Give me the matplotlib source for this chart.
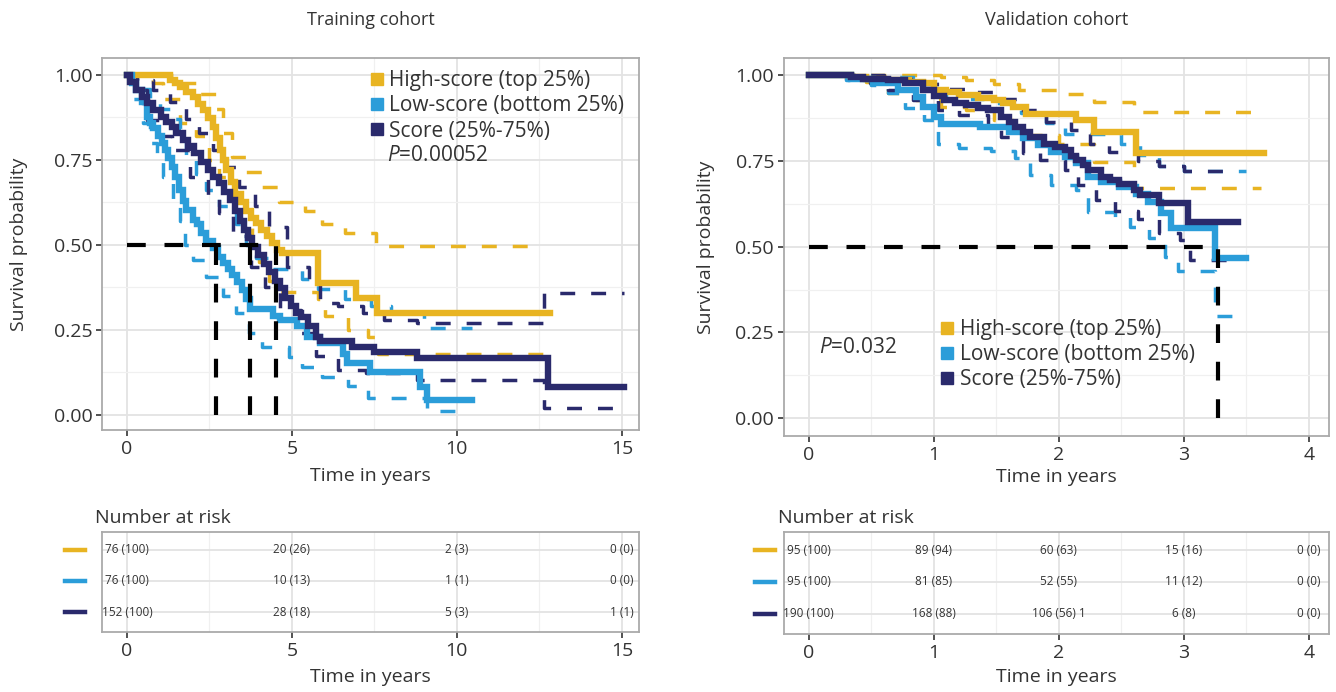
import matplotlib
matplotlib.use('Agg')
import matplotlib.pyplot as plt
from matplotlib.lines import Line2D
import matplotlib.transforms as mtransforms

plt.rcParams['font.family'] = ['Open Sans', 'DejaVu Sans']
plt.rcParams['mathtext.fontset'] = 'custom'
plt.rcParams['mathtext.rm'] = 'Open Sans'
plt.rcParams['mathtext.it'] = 'Open Sans:italic'

YELLOW = '#E8B422'
BLUE = '#2B9DD9'
NAVY = '#2A2A6C'
TXT = '#333333'

group_labels = ['High-score (top 25%)', 'Low-score (bottom 25%)', 'Score (25%-75%)']

# ---------------- Training cohort ----------------
tr_high_t = [0, 1.3, 1.45, 1.6, 1.8, 2.0, 2.15, 2.3, 2.45, 2.6, 2.7, 2.82, 2.9, 3.0, 3.15, 3.27, 3.45, 3.6, 3.75, 3.9, 4.05, 4.24, 4.4, 4.55, 4.7, 5.79, 6.93, 7.59, 12.83]
tr_high_s = [1, 0.985, 0.975, 0.966, 0.95, 0.936, 0.915, 0.897, 0.872, 0.848, 0.815, 0.78, 0.75, 0.72, 0.685, 0.65, 0.625, 0.60, 0.58, 0.564, 0.545, 0.525, 0.505, 0.485, 0.475, 0.387, 0.343, 0.30, 0.30]
tr_high_up_t = [0, 1.4, 2.2, 2.7, 2.9, 3.2, 3.6, 4.1, 4.6, 5.4, 5.9, 6.6, 7.55, 12.45]
tr_high_up_s = [1, 0.975, 0.945, 0.90, 0.83, 0.76, 0.715, 0.67, 0.625, 0.60, 0.56, 0.534, 0.497, 0.497]
tr_high_lo_t = [0, 0.8, 1.1, 1.6, 2.1, 2.5, 2.8, 3.1, 3.4, 3.8, 4.0, 4.3, 4.6, 5.8, 6.0, 6.7, 7.3, 7.6, 12.83]
tr_high_lo_s = [1, 0.975, 0.93, 0.86, 0.82, 0.75, 0.70, 0.64, 0.57, 0.51, 0.45, 0.395, 0.36, 0.34, 0.29, 0.25, 0.23, 0.18, 0.18]

tr_low_t = [0, 0.15, 0.27, 0.45, 0.6, 0.7, 0.8, 0.93, 1.05, 1.15, 1.25, 1.36, 1.47, 1.58, 1.7, 1.8, 2.0, 2.13, 2.25, 2.4, 2.6, 2.75, 2.9, 3.05, 3.2, 3.35, 3.5, 3.62, 3.73, 4.43, 4.64, 5.15, 5.45, 5.85, 6.55, 6.66, 7.36, 8.88, 9.1, 10.45]
tr_low_s = [1, 0.975, 0.956, 0.92, 0.877, 0.86, 0.845, 0.819, 0.80, 0.779, 0.755, 0.730, 0.70, 0.662, 0.63, 0.603, 0.574, 0.56, 0.535, 0.51, 0.49, 0.465, 0.446, 0.43, 0.41, 0.39, 0.367, 0.34, 0.31, 0.29, 0.28, 0.26, 0.23, 0.21, 0.18, 0.153, 0.125, 0.083, 0.044, 0.044]
tr_low_up_t = [0, 0.3, 0.7, 1.0, 1.3, 1.6, 1.8, 2.1, 2.4, 2.8, 3.3, 3.6, 3.9, 4.4, 5.3, 5.8, 6.6, 7.4, 8.0, 9.0, 10.45]
tr_low_up_s = [1, 0.96, 0.93, 0.9, 0.87, 0.84, 0.76, 0.71, 0.66, 0.615, 0.56, 0.50, 0.46, 0.43, 0.40, 0.37, 0.34, 0.32, 0.30, 0.255, 0.255]
tr_low_lo_t = [0, 0.2, 0.5, 0.7, 0.9, 1.1, 1.4, 1.6, 1.75, 2.0, 2.4, 2.9, 3.3, 3.7, 4.1, 4.9, 5.3, 5.9, 6.7, 7.3, 9.1, 10.2]
tr_low_lo_s = [1, 0.93, 0.86, 0.80, 0.76, 0.70, 0.63, 0.57, 0.50, 0.455, 0.405, 0.35, 0.30, 0.24, 0.20, 0.17, 0.14, 0.11, 0.085, 0.05, 0.01, 0.01]

tr_mid_t = [0, 0.1, 0.27, 0.45, 0.6, 0.8, 1.04, 1.2, 1.36, 1.5, 1.69, 1.85, 2.02, 2.25, 2.46, 2.62, 2.78, 2.95, 3.11, 3.28, 3.44, 3.55, 3.66, 3.8, 3.98, 4.15, 4.31, 4.48, 4.64, 4.8, 4.97, 5.12, 5.29, 5.5, 5.73, 5.84, 6.82, 7.48, 8.79, 12.77, 15.07]
tr_mid_s = [1, 0.98, 0.956, 0.935, 0.917, 0.897, 0.877, 0.862, 0.848, 0.83, 0.809, 0.79, 0.770, 0.745, 0.721, 0.70, 0.681, 0.655, 0.632, 0.60, 0.57, 0.545, 0.52, 0.495, 0.47, 0.445, 0.42, 0.395, 0.373, 0.345, 0.319, 0.30, 0.289, 0.26, 0.23, 0.216, 0.20, 0.186, 0.167, 0.083, 0.083]
tr_mid_up_t = [0, 0.3, 0.8, 1.3, 1.8, 2.2, 2.6, 3.0, 3.4, 3.88, 4.31, 4.86, 5.51, 5.84, 6.39, 7.15, 7.8, 8.8, 12.65, 15.07]
tr_mid_up_s = [1, 0.985, 0.955, 0.92, 0.87, 0.83, 0.78, 0.73, 0.67, 0.613, 0.554, 0.436, 0.397, 0.328, 0.319, 0.30, 0.28, 0.27, 0.358, 0.358]
tr_mid_lo_t = [0, 0.16, 0.6, 1.0, 1.36, 1.91, 2.46, 2.78, 3.22, 3.77, 4.2, 4.64, 5.29, 5.73, 6.39, 7.26, 8.8, 12.65, 15.07]
tr_mid_lo_s = [1, 0.956, 0.868, 0.82, 0.779, 0.701, 0.642, 0.593, 0.525, 0.436, 0.377, 0.309, 0.24, 0.172, 0.132, 0.123, 0.103, 0.02, 0.02]

tr_medians = [4.53, 2.7, 3.74]
tr_p = '0.00052'
tr_risk_times = [0, 5, 10, 15]
tr_risk_high = ['76 (100)', '20 (26)', '2 (3)', '0 (0)']
tr_risk_low = ['76 (100)', '10 (13)', '1 (1)', '0 (0)']
tr_risk_mid = ['152 (100)', '28 (18)', '5 (3)', '1 (1)']

# ---------------- Validation cohort ----------------
va_high_t = [0, 0.34, 0.46, 0.6, 0.8, 0.91, 1.0, 1.1, 1.2, 1.35, 1.48, 1.55, 1.63, 1.74, 2.14, 2.28, 2.62, 3.64]
va_high_s = [1, 0.995, 0.99, 0.985, 0.98, 0.976, 0.956, 0.95, 0.942, 0.935, 0.927, 0.918, 0.908, 0.888, 0.869, 0.835, 0.772, 0.772]
va_high_up_t = [0, 1.06, 1.26, 1.48, 1.68, 2.05, 2.28, 2.6, 3.6]
va_high_up_s = [1, 0.995, 0.985, 0.975, 0.956, 0.946, 0.922, 0.893, 0.893]
va_high_lo_t = [0, 0.3, 0.46, 0.63, 0.86, 1.06, 1.26, 1.48, 1.63, 1.77, 2.0, 2.28, 2.6, 3.62]
va_high_lo_s = [1, 0.99, 0.98, 0.947, 0.927, 0.908, 0.898, 0.869, 0.84, 0.825, 0.80, 0.747, 0.67, 0.67]

va_low_t = [0, 0.34, 0.51, 0.71, 0.86, 0.91, 1.0, 1.06, 1.37, 1.6, 1.71, 1.83, 1.94, 2.05, 2.14, 2.23, 2.34, 2.48, 2.62, 2.71, 2.82, 2.9, 3.25, 3.5]
va_low_s = [1, 0.99, 0.976, 0.956, 0.937, 0.908, 0.879, 0.859, 0.85, 0.835, 0.816, 0.796, 0.777, 0.762, 0.743, 0.704, 0.689, 0.675, 0.655, 0.63, 0.597, 0.555, 0.466, 0.466]
va_low_up_t = [0, 0.5, 0.9, 1.1, 1.4, 1.7, 1.9, 2.05, 2.5, 2.65, 2.8, 3.0, 3.5]
va_low_up_s = [1, 0.995, 0.975, 0.93, 0.92, 0.89, 0.86, 0.83, 0.80, 0.767, 0.735, 0.72, 0.72]
va_low_lo_t = [0, 0.3, 0.5, 0.63, 0.77, 0.92, 1.03, 1.2, 1.46, 1.65, 1.77, 1.94, 2.14, 2.23, 2.45, 2.57, 2.72, 2.85, 2.95, 3.25, 3.45]
va_low_lo_s = [1, 0.985, 0.97, 0.947, 0.903, 0.87, 0.80, 0.787, 0.78, 0.76, 0.71, 0.68, 0.665, 0.60, 0.586, 0.557, 0.525, 0.47, 0.43, 0.297, 0.297]

va_mid_t = [0, 0.34, 0.43, 0.63, 0.77, 0.91, 1.0, 1.08, 1.17, 1.26, 1.35, 1.43, 1.54, 1.6, 1.65, 1.71, 1.77, 1.88, 1.97, 2.05, 2.1, 2.14, 2.19, 2.23, 2.34, 2.41, 2.48, 2.6, 2.65, 2.8, 3.03, 3.43]
va_mid_s = [1, 0.995, 0.99, 0.985, 0.976, 0.956, 0.94, 0.927, 0.92, 0.913, 0.905, 0.898, 0.879, 0.865, 0.85, 0.835, 0.82, 0.80, 0.79, 0.782, 0.765, 0.752, 0.737, 0.723, 0.704, 0.695, 0.684, 0.665, 0.65, 0.627, 0.572, 0.572]
va_mid_up_t = [0, 0.6, 0.9, 1.1, 1.3, 1.5, 1.7, 1.9, 2.1, 2.25, 2.4, 2.63, 2.8, 3.0, 3.38]
va_mid_up_s = [1, 0.99, 0.975, 0.96, 0.95, 0.93, 0.90, 0.863, 0.84, 0.80, 0.775, 0.75, 0.735, 0.72, 0.72]
va_mid_lo_t = [0, 0.49, 0.63, 0.83, 1.03, 1.2, 1.43, 1.54, 1.71, 1.85, 2.05, 2.15, 2.3, 2.45, 2.63, 2.8, 2.97, 3.05, 3.43]
va_mid_lo_s = [1, 0.976, 0.956, 0.927, 0.898, 0.883, 0.85, 0.82, 0.772, 0.752, 0.723, 0.68, 0.635, 0.605, 0.58, 0.54, 0.52, 0.46, 0.455]

va_medians = [3.27]
va_p = '0.032'
va_risk_times = [0, 1, 2, 3, 4]
va_risk_high = ['95 (100)', '89 (94)', '60 (63)', '15 (16)', '0 (0)']
va_risk_low = ['95 (100)', '81 (85)', '52 (55)', '11 (12)', '0 (0)']
va_risk_mid = ['190 (100)', '168 (88)', '106 (56) 1', '6 (8)', '0 (0)']

colors = [YELLOW, BLUE, NAVY]

fig = plt.figure(figsize=(13.36, 6.92), dpi=100)


def style_axes(ax, xlim, major, minor, ylim, yticks, ylabels):
    ax.set_xlim(*xlim)
    ax.set_ylim(*ylim)
    ax.set_xticks(major)
    ax.set_xticks(minor, minor=True)
    ax.set_yticks(yticks)
    ax.set_yticklabels(ylabels)
    ax.set_yticks([0.125, 0.375, 0.625, 0.875], minor=True)
    ax.grid(which='major', color='#E3E3E3', lw=1.3, zorder=0)
    ax.grid(which='minor', color='#F0F0F0', lw=0.9, zorder=0)
    ax.set_axisbelow(True)
    for sp in ax.spines.values():
        sp.set_color('#AAAAAA')
        sp.set_linewidth(1.3)
    ax.tick_params(which='major', length=4, width=1.2, color='#333333',
                   labelsize=14, labelcolor=TXT, pad=3)
    ax.tick_params(which='minor', length=0)


def km_panel(ax, curves, medians):
    dash = (4.3, 4.6)
    for (t, s, ut, us, lt, ls_), c in zip(curves, colors):
        ax.step(ut, us, where='post', color=c, lw=2.5, dashes=dash, zorder=2)
        ax.step(lt, ls_, where='post', color=c, lw=2.5, dashes=dash, zorder=2)
    for (t, s, ut, us, lt, ls_), c in zip(curves, colors):
        ax.step(t, s, where='post', color=c, lw=4.6, zorder=3,
                solid_joinstyle='miter')
    ax.plot([0, max(medians)], [0.5, 0.5], color='black', lw=3,
            dashes=(4.5, 4.5), zorder=4)
    for m in medians:
        ax.plot([m, m], [0, 0.5], color='black', lw=3, dashes=(4.5, 4.5), zorder=4)


def risk_table(ax, xlim, major, minor, times, rows, bar_x):
    ax.set_xlim(*xlim)
    ax.set_ylim(0.355, 3.58)
    ax.set_xticks(major)
    ax.set_xticks(minor, minor=True)
    ax.set_yticks([1, 2, 3])
    ax.set_yticklabels([])
    ax.grid(which='major', color='#E3E3E3', lw=1.3, zorder=0)
    ax.grid(which='minor', axis='x', color='#F0F0F0', lw=0.9, zorder=0)
    ax.set_axisbelow(True)
    for sp in ax.spines.values():
        sp.set_color('#AAAAAA')
        sp.set_linewidth(1.3)
    ax.tick_params(axis='x', which='major', length=4, width=1.2, color='#333333',
                   labelsize=14, labelcolor=TXT, pad=3)
    ax.tick_params(axis='y', length=0)
    ax.tick_params(which='minor', length=0)
    trans = mtransforms.blended_transform_factory(ax.transAxes, ax.transData)
    for r, (labels, c) in enumerate(zip(rows, colors)):
        y = 3 - r
        for tt, lab in zip(times, labels):
            ax.text(tt, y, lab, ha='center', va='center', fontsize=8.5, color=TXT)
        ax.add_line(Line2D(bar_x, [y, y], transform=trans, color=c, lw=3.2,
                           clip_on=False))
    ax.set_xlabel('Time in years', fontsize=14, color=TXT)


yt = [0, 0.25, 0.5, 0.75, 1.0]
ytl = ['0.00', '0.25', '0.50', '0.75', '1.00']
handles = [Line2D([], [], marker='s', ls='none', color=c, markersize=9) for c in colors]
leg_kw = dict(loc='upper left', frameon=False, fontsize=15, handletextpad=0.2,
              labelspacing=0.2, borderpad=0, handlelength=0.8, borderaxespad=0,
              labelcolor=TXT)

# Training main
ax1 = fig.add_axes([0.0767, 0.3786, 0.4016, 0.5376])
style_axes(ax1, (-0.74, 15.52), [0, 5, 10, 15], [2.5, 7.5, 12.5],
           (-0.045, 1.05), yt, ytl)
km_panel(ax1, [
    (tr_high_t, tr_high_s, tr_high_up_t, tr_high_up_s, tr_high_lo_t, tr_high_lo_s),
    (tr_low_t, tr_low_s, tr_low_up_t, tr_low_up_s, tr_low_lo_t, tr_low_lo_s),
    (tr_mid_t, tr_mid_s, tr_mid_up_t, tr_mid_up_s, tr_mid_lo_t, tr_mid_lo_s),
], tr_medians)
ax1.set_xlabel('Time in years', fontsize=14, color=TXT)
ax1.xaxis.set_label_coords(0.5, -0.1)
ax1.set_ylabel('Survival probability', fontsize=14, color=TXT)
ax1.yaxis.set_label_coords(-0.139, 0.5)
ax1.legend(handles, group_labels, bbox_to_anchor=(0.496, 0.967), **leg_kw)
ax1.text(0.53, 0.739, r'$\it{P}$=' + tr_p, transform=ax1.transAxes, fontsize=15,
         color=TXT, va='center', ha='left')

# Validation main
ax2 = fig.add_axes([0.5867, 0.3699, 0.4079, 0.5462])
style_axes(ax2, (-0.2, 4.16), [0, 1, 2, 3, 4], [0.5, 1.5, 2.5, 3.5],
           (-0.052, 1.05), yt, ytl)
km_panel(ax2, [
    (va_high_t, va_high_s, va_high_up_t, va_high_up_s, va_high_lo_t, va_high_lo_s),
    (va_low_t, va_low_s, va_low_up_t, va_low_up_s, va_low_lo_t, va_low_lo_s),
    (va_mid_t, va_mid_s, va_mid_up_t, va_mid_up_s, va_mid_lo_t, va_mid_lo_s),
], va_medians)
ax2.set_xlabel('Time in years', fontsize=14, color=TXT)
ax2.xaxis.set_label_coords(0.5, -0.085)
ax2.set_ylabel('Survival probability', fontsize=14, color=TXT)
ax2.yaxis.set_label_coords(-0.126, 0.5)
ax2.legend(handles, group_labels, bbox_to_anchor=(0.285, 0.31), **leg_kw)
ax2.text(0.065, 0.233, r'$\it{P}$=' + va_p, transform=ax2.transAxes, fontsize=15,
         color=TXT, va='center', ha='left')

# Titles
fig.text(0.2775, 1 - 20 / 692, 'Training cohort', ha='center', va='center',
         fontsize=13, color=TXT)
fig.text(0.7906, 1 - 20 / 692, 'Validation cohort', ha='center', va='center',
         fontsize=13, color=TXT)

# Risk tables
at1 = fig.add_axes([0.0767, 0.0867, 0.4016, 0.1445])
risk_table(at1, (-0.74, 15.52), [0, 5, 10, 15], [2.5, 7.5, 12.5], tr_risk_times,
           [tr_risk_high, tr_risk_low, tr_risk_mid], [-0.07, -0.033])
at1.xaxis.set_label_coords(0.5, -0.36)
at2 = fig.add_axes([0.5867, 0.0838, 0.4079, 0.1474])
risk_table(at2, (-0.2, 4.16), [0, 1, 2, 3, 4], [0.5, 1.5, 2.5, 3.5], va_risk_times,
           [va_risk_high, va_risk_low, va_risk_mid], [-0.053, -0.016])
at2.xaxis.set_label_coords(0.5, -0.33)

fig.text(95 / 1336, 1 - 518 / 692, 'Number at risk', ha='left', va='center',
         fontsize=14, color=TXT)
fig.text(778 / 1336, 1 - 518 / 692, 'Number at risk', ha='left', va='center',
         fontsize=14, color=TXT)

fig.savefig('out.png', dpi=100)
